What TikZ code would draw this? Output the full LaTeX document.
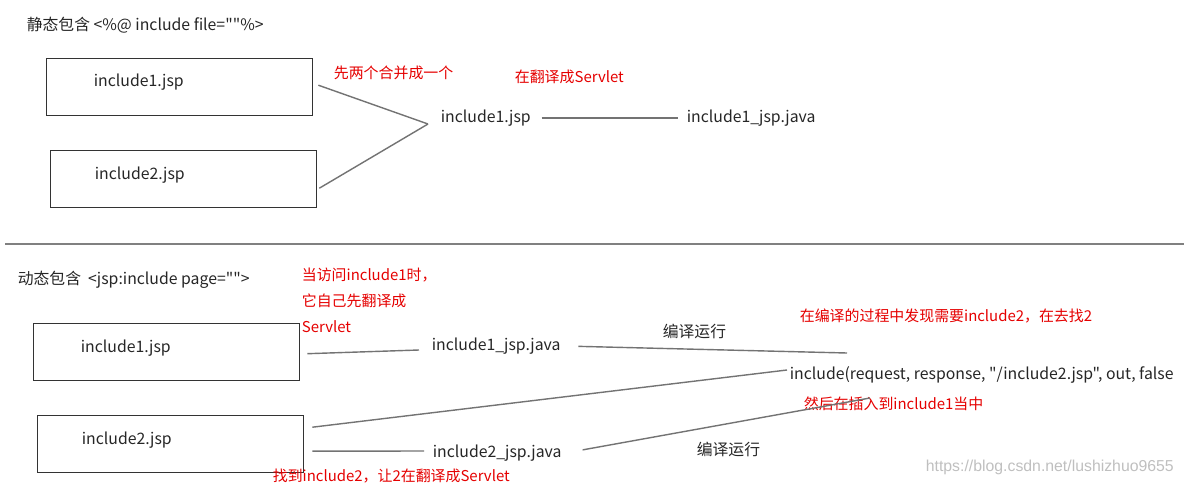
\documentclass[tikz,border=0pt]{standalone}
\usepackage{fontspec}
\setmainfont{Noto Sans CJK SC}[Ligatures=TeXOff]
\newfontfamily\markfont{Liberation Sans}
\usetikzlibrary{calc}

\begin{document}
\begin{tikzpicture}[x=0.02cm,y=-0.02cm,
    every node/.style={font=\fontsize{9pt}{11pt}\selectfont,text=black!85,inner sep=2pt},
    box/.style={draw=black!80,line width=0.8pt,anchor=north west,minimum width=5.32cm,minimum height=1.14cm},
    note/.style={text=red!90!black,font=\fontsize{8.5pt}{14.7pt}\selectfont,anchor=west},
    conn/.style={draw=black!55,line width=0.8pt}]
  \useasboundingbox (0,0) rectangle (1184,487);
  % static include
  \node[anchor=west] (stitle) at (23,25) {静态包含 <\%@ include file=""\%>};
  \node[box] (inc1) at (46,58) {};
  \node[box] (inc2) at (50,150) {};
  \node[anchor=west] (inc1txt) at (90,82) {include1.jsp};
  \node[anchor=west] (inc2txt) at (91,175) {include2.jsp};
  \coordinate (m) at (428,124);
  \draw[conn] ($(inc1.east)+(5,-2)$) -- (m);
  \draw[conn] ($(inc2.east)+(2,9)$) -- (m);
  \node[anchor=west] (merged) at (437,118) {include1.jsp};
  \node[anchor=west] (java1) at (683,118) {include1\_jsp.java};
  \draw[conn,shorten <=4pt,shorten >=3pt] (merged.east) -- (java1.west);
  \node[note] (n1) at (330,73) {先两个合并成一个};
  \node[note] (n2) at (511,77) {在翻译成Servlet};
  % separator
  \draw[black!50,line width=0.8pt] (5,244) -- (1184,244);
  % dynamic include
  \node[anchor=west] (dtitle) at (14,280) {动态包含 \ <jsp:include page="">};
  \node[note,anchor=north west,align=left] (n3) at (298,264) {当访问include1时，\\它自己先翻译成\\Servlet};
  \node[box] (inc3) at (33,323) {};
  \node[box] (inc4) at (37,415) {};
  \node[anchor=west] (inc3txt) at (77,348) {include1.jsp};
  \node[anchor=west] (inc4txt) at (78,440) {include2.jsp};
  \node[anchor=west] (java3) at (428,346) {include1\_jsp.java};
  \node[anchor=west] (java4) at (429,453) {include2\_jsp.java};
  \node[anchor=west] (call) at (786,375) {include(request, response, "/include2.jsp", out, false};
  \node[anchor=west] (run1) at (659,331) {编译运行};
  \node[anchor=west] (run2) at (693,449) {编译运行};
  \node[note] (n4) at (796,316) {在编译的过程中发现需要include2，在去找2};
  \node[note] (n5) at (800,404) {然后在插入到include1当中};
  \node[note] (n6) at (269,476) {找到include2，让2在翻译成Servlet};
  \coordinate (c1) at (847,353);
  \coordinate (c2) at (870,398);
  \draw[conn] ($(inc3.east)+(7,1.5)$) -- ($(java3.west)+(-9,4)$);
  \draw[conn,shorten <=8pt] (java3.east) -- (c1);
  \draw[conn] ($(inc4.east)+(8,-17)$) -- ($(call.west)+(1,-5)$);
  \draw[conn] ($(inc4.east)+(8,7)$) -- ($(java4.west)+(-5,-2)$);
  \draw[conn,shorten <=10pt] (java4.east) -- (c2);
  \node[anchor=west,text=black!25,font=\markfont\fontsize{9pt}{11pt}\selectfont] (mark) at (922,467) {https://blog.csdn.net/lushizhuo9655};
\end{tikzpicture}
\end{document}
